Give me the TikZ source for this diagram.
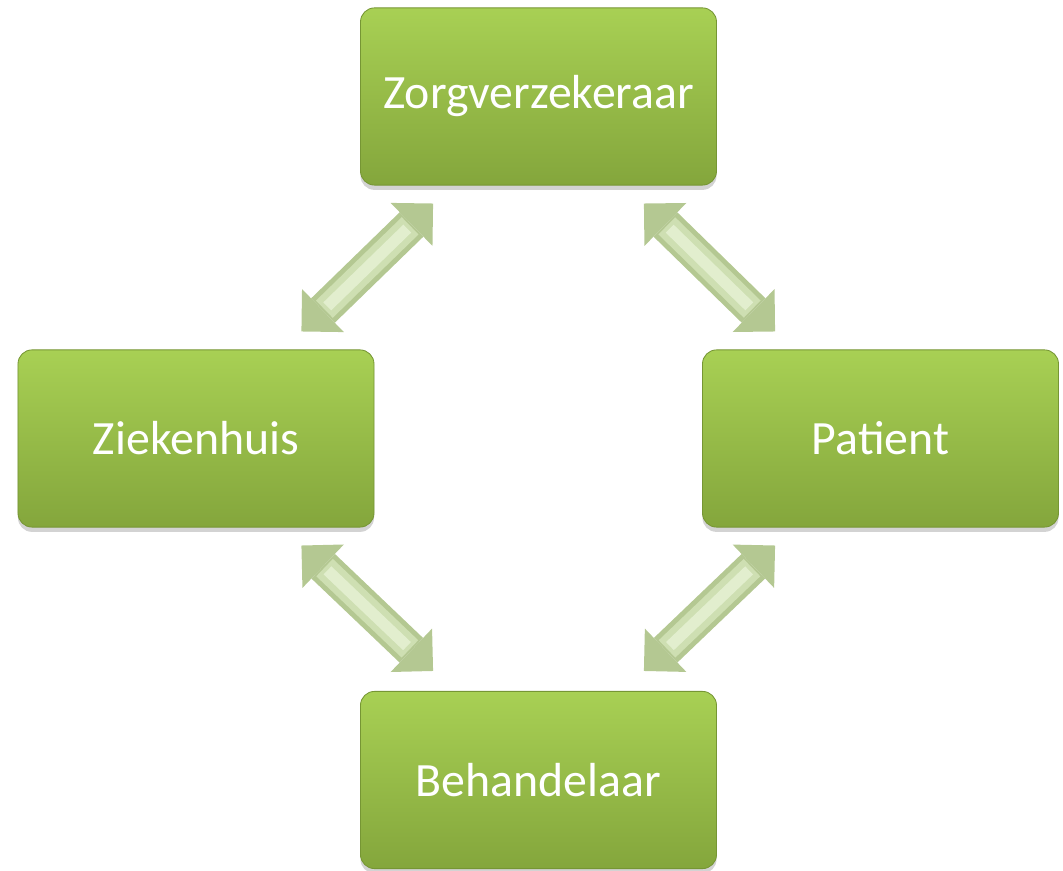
\documentclass[tikz,border=0pt]{standalone}
\usepackage{fontspec}
\setmainfont{Carlito}
\usetikzlibrary{positioning,arrows.meta,shadows}

\definecolor{vakboven}{RGB}{168,208,84}
\definecolor{vakonder}{RGB}{132,166,60}
\definecolor{vakrand}{RGB}{118,150,52}
\definecolor{pijlgroen}{RGB}{180,200,146}
\definecolor{pijlmidden}{RGB}{206,223,178}
\definecolor{pijllicht}{RGB}{226,238,206}

\tikzset{
  vak/.style={rectangle, rounded corners=0.35cm, minimum width=8.9cm, minimum height=4.43cm,
    top color=vakboven, bottom color=vakonder, draw=vakrand, line width=0.6pt,
    text=white, font=\fontsize{34}{40}\selectfont,
    drop shadow={opacity=0.35, shadow xshift=0pt, shadow yshift=-0.12cm}},
  pijl/.style={<->, >={Triangle[length=7.5mm, width=15mm, line width=0pt]},
    line width=0.85cm, draw=pijlgroen,
    postaction={draw=pijlmidden, line width=0.6cm, shorten <=0.8cm, shorten >=0.8cm, -},
    postaction={draw=pijllicht, line width=0.28cm, shorten <=0.9cm, shorten >=0.9cm, -}}
}

\begin{document}
\begin{tikzpicture}
    \useasboundingbox (0,0) rectangle (26.575,21.75);

    % de vier partijen
    \node[vak] (zorg) at (13.4625,19.3375) {Zorgverzekeraar};
    \node[vak] (zieken) at (4.9,10.7875) {Ziekenhuis};
    \node[vak] (patient) at (22.0125,10.7875) {Patient};
    \node[vak] (behandel) at (13.4625,2.25) {Behandelaar};

    % eindpunten van de pijlen
    \coordinate (zl1) at ([shift={(1.825,-0.45)}]zorg.south west);
    \coordinate (zl2) at ([shift={(-1.825,0.45)}]zieken.north east);
    \coordinate (zr1) at ([shift={(-1.825,-0.45)}]zorg.south east);
    \coordinate (zr2) at ([shift={(1.825,0.45)}]patient.north west);
    \coordinate (bl1) at ([shift={(-1.825,-0.45)}]zieken.south east);
    \coordinate (bl2) at ([shift={(1.825,0.5)}]behandel.north west);
    \coordinate (br1) at ([shift={(1.825,-0.45)}]patient.south west);
    \coordinate (br2) at ([shift={(-1.825,0.5)}]behandel.north east);

    \draw[pijl] (zl2) -- (zl1);
    \draw[pijl] (zr1) -- (zr2);
    \draw[pijl] (bl1) -- (bl2);
    \draw[pijl] (br1) -- (br2);
\end{tikzpicture}
\end{document}
